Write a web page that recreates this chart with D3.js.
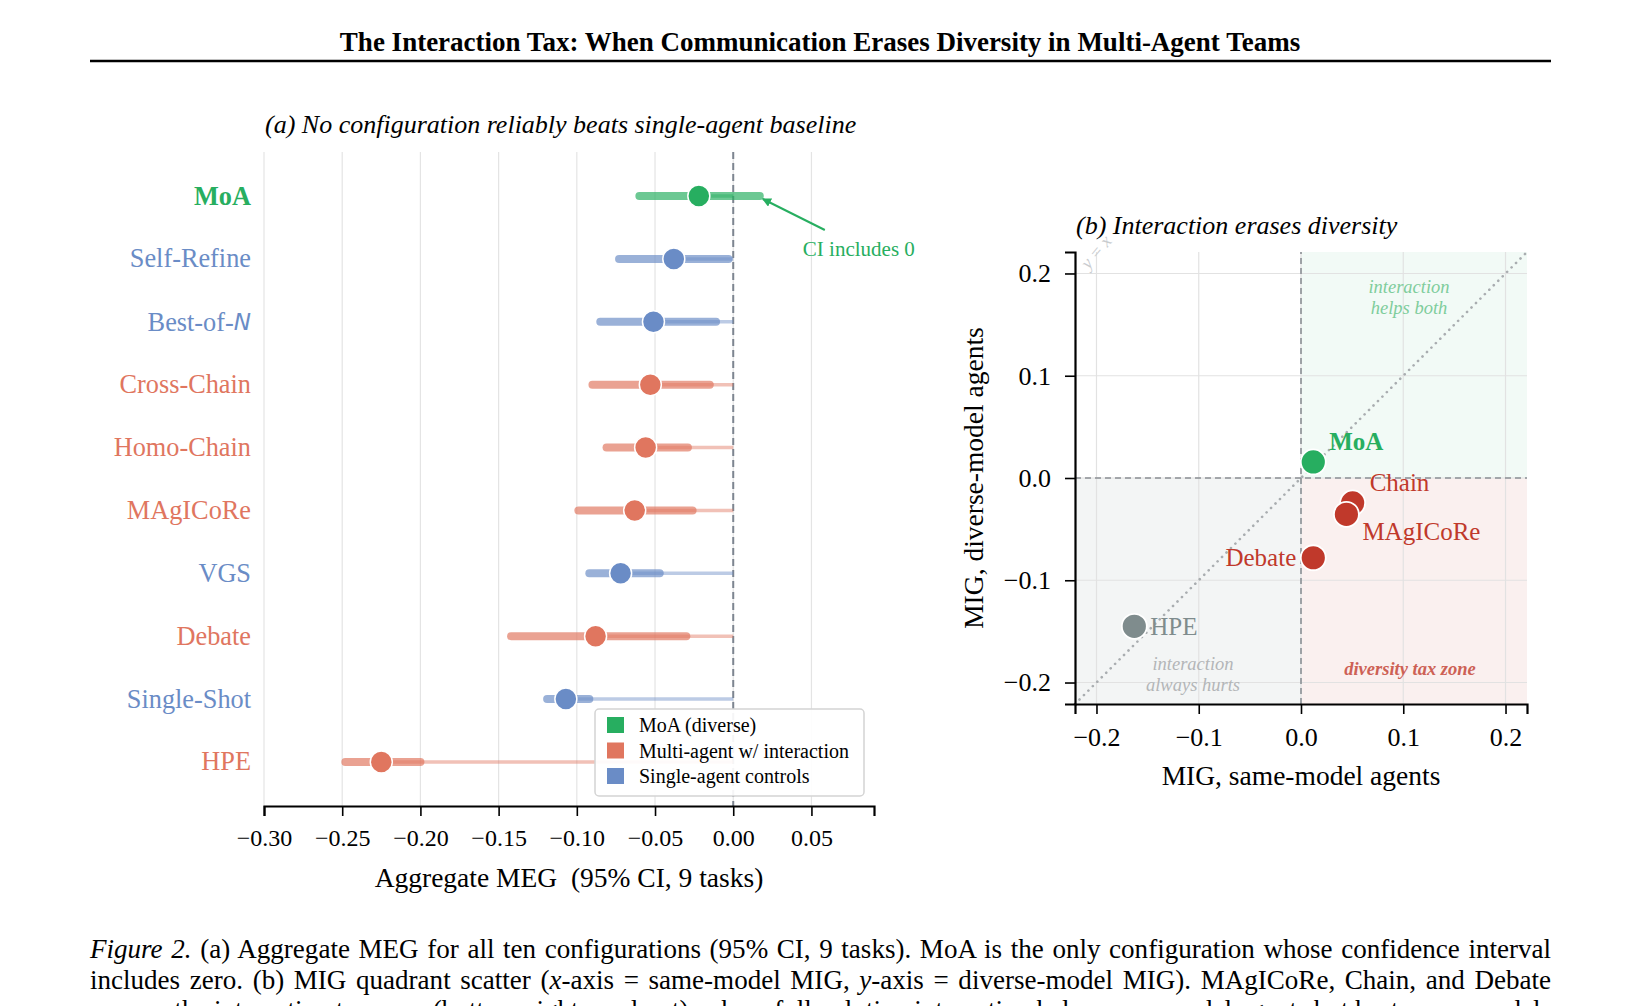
<!DOCTYPE html>
<html>
<head>
<meta charset="utf-8">
<script src="https://cdn.jsdelivr.net/npm/d3@7"></script>
<style>
  body { margin: 0; background: #fff; }
  text { font-family: "Liberation Serif", "Times New Roman", serif; }
</style>
</head>
<body>
<div id="chart"></div>
<script>
// ---- data: panel (a) forest plot
const configs = ["MoA", "Self-Refine", "Best-of-N", "Cross-Chain", "Homo-Chain", "MAgICoRe", "VGS", "Debate", "Single-Shot", "HPE"];
const groups = ["diverse", "single", "single", "multi", "multi", "multi", "single", "multi", "single", "multi"];
const meg = [-0.022, -0.038, -0.051, -0.053, -0.056, -0.063, -0.072, -0.088, -0.107, -0.225];
const ciLow = [-0.060, -0.073, -0.085, -0.090, -0.081, -0.099, -0.092, -0.142, -0.119, -0.248];
const ciHigh = [0.017, -0.003, -0.011, -0.015, -0.029, -0.026, -0.047, -0.030, -0.092, -0.200];
const xTicksA = [-0.30, -0.25, -0.20, -0.15, -0.10, -0.05, 0.00, 0.05];
const legendGroups = ["diverse", "multi", "single"];
const legendLabels = ["MoA (diverse)", "Multi-agent w/ interaction", "Single-agent controls"];

// ---- data: panel (b) quadrant scatter
const scatterNames = ["MoA", "Chain", "MAgICoRe", "Debate", "HPE"];
const scatterKinds = ["diverse", "tax", "tax", "tax", "hurt"];
const migSame = [0.012, 0.0505, 0.0444, 0.012, -0.163];
const migDiverse = [0.0157, -0.0244, -0.0355, -0.078, -0.145];
const ticksB = [-0.2, -0.1, 0.0, 0.1, 0.2];

// caption, as runs of [text, italic]
const captionLines = [
  [["Figure 2.", true], [" (a) Aggregate MEG for all ten configurations (95% CI, 9 tasks). MoA is the only configuration whose confidence interval", false]],
  [["includes zero. (b) MIG quadrant scatter (", false], ["x", true], ["-axis = same-model MIG, ", false], ["y", true], ["-axis = diverse-model MIG). MAgICoRe, Chain, and Debate", false]],
  [["occupy the interaction tax zone (bottom-right quadrant), where full-solution interaction helps same-model agents but hurts once models", false]]
];

const groupColor = { diverse: "#27ae60", multi: "#e0765f", single: "#6a8cc6" };
const kindColor = { diverse: "#27ae60", tax: "#c0392b", hurt: "#7f8c8d" };
const fmtMinus = s => s.replace("-", "\u2212");

const width = 1639, height = 1006;
const svg = d3.select("#chart").append("svg")
  .attr("width", width)
  .attr("height", height);

// title + rule
svg.append("text")
  .attr("x", 820).attr("y", 51)
  .attr("text-anchor", "middle")
  .attr("font-size", 27).attr("font-weight", "bold")
  .text("The Interaction Tax: When Communication Erases Diversity in Multi-Agent Teams");
svg.append("line")
  .attr("x1", 90).attr("x2", 1551).attr("y1", 61).attr("y2", 61)
  .attr("stroke", "#000").attr("stroke-width", 2.5);

// ================= panel (a)
const xA = d3.scaleLinear().domain([-0.30, 0.09]).range([264, 874]);
const yA = d3.scaleLinear().domain([-0.7, 9.7]).range([152, 806]);

const panelA = svg.append("g");

panelA.append("text")
  .attr("x", 265).attr("y", 133)
  .attr("font-size", 26).attr("font-style", "italic")
  .text("(a) No configuration reliably beats single-agent baseline");

// grid
panelA.append("g").selectAll("line").data(xTicksA).join("line")
  .attr("x1", d => xA(d)).attr("x2", d => xA(d))
  .attr("y1", yA.range()[0]).attr("y2", yA.range()[1])
  .attr("stroke", "#e4e4e4").attr("stroke-width", 1.2);

// zero reference
panelA.append("line")
  .attr("x1", xA(0)).attr("x2", xA(0))
  .attr("y1", yA.range()[0]).attr("y2", yA.range()[1])
  .attr("stroke", "#7d8590").attr("stroke-width", 2)
  .attr("stroke-dasharray", "7,4");

const rows = configs.map((c, i) => ({ name: c, group: groups[i], est: meg[i], lo: ciLow[i], hi: ciHigh[i], i }));

// stems from zero to estimate
panelA.append("g").selectAll("line").data(rows).join("line")
  .attr("x1", xA(0)).attr("x2", d => xA(d.est))
  .attr("y1", d => yA(d.i)).attr("y2", d => yA(d.i))
  .attr("stroke", d => groupColor[d.group])
  .attr("stroke-opacity", 0.45).attr("stroke-width", 3.5);

// CI bars
panelA.append("g").selectAll("line").data(rows).join("line")
  .attr("x1", d => xA(d.lo)).attr("x2", d => xA(d.hi))
  .attr("y1", d => yA(d.i)).attr("y2", d => yA(d.i))
  .attr("stroke", d => groupColor[d.group])
  .attr("stroke-opacity", 0.68).attr("stroke-width", 8)
  .attr("stroke-linecap", "round");

// points
panelA.append("g").selectAll("circle").data(rows).join("circle")
  .attr("cx", d => xA(d.est)).attr("cy", d => yA(d.i))
  .attr("r", 11)
  .attr("fill", d => groupColor[d.group])
  .attr("stroke", "#fff").attr("stroke-width", 1.5);

// category labels
const catLabels = panelA.append("g").selectAll("text").data(rows).join("text")
  .attr("x", 251).attr("y", d => yA(d.i))
  .attr("dominant-baseline", "central")
  .attr("text-anchor", "end")
  .attr("font-size", 26.3)
  .attr("font-weight", d => d.group === "diverse" ? "bold" : "normal")
  .attr("fill", d => groupColor[d.group]);
catLabels.each(function (d) {
  const t = d3.select(this);
  if (d.name === "Best-of-N") {
    t.append("tspan").text("Best-of-");
    t.append("tspan").attr("font-family", "DejaVu Sans").attr("font-style", "italic").attr("font-size", 23).text("N");
  } else {
    t.text(d.name);
  }
});

// x axis
const axisA = panelA.append("g")
  .attr("transform", `translate(0,${yA.range()[1]})`)
  .call(d3.axisBottom(xA).tickValues(xTicksA).tickFormat(d => fmtMinus(d3.format(".2f")(d))).tickSizeOuter(0).tickSize(10).tickPadding(13));
axisA.select(".domain").attr("stroke-width", 2.2);
axisA.selectAll(".tick line").attr("stroke-width", 1.6);
axisA.selectAll(".tick text").attr("font-size", 24).attr("font-family", "Liberation Serif");

panelA.append("text")
  .attr("x", (xA.range()[0] + xA.range()[1]) / 2).attr("y", 887)
  .attr("text-anchor", "middle").attr("font-size", 27.5)
  .style("white-space", "pre")
  .text("Aggregate MEG  (95% CI, 9 tasks)");

// annotation
svg.append("defs").append("marker")
  .attr("id", "arrowG").attr("viewBox", "0 0 10 10")
  .attr("refX", 9).attr("refY", 5)
  .attr("markerWidth", 4.5).attr("markerHeight", 4.5)
  .attr("orient", "auto")
  .append("path").attr("d", "M0,0 L10,5 L0,10 z").attr("fill", "#27ae60");
const tipX = xA(ciHigh[0]) + 3, tipY = yA(0) + 3;
panelA.append("line")
  .attr("x1", tipX + 62).attr("y1", tipY + 31)
  .attr("x2", tipX).attr("y2", tipY)
  .attr("stroke", "#27ae60").attr("stroke-width", 2)
  .attr("marker-end", "url(#arrowG)");
panelA.append("text")
  .attr("x", tipX + 96).attr("y", tipY + 50)
  .attr("text-anchor", "middle").attr("dominant-baseline", "central")
  .attr("font-size", 21).attr("fill", "#27ae60")
  .text("CI includes 0");

// legend
const legend = panelA.append("g").attr("transform", "translate(595,709)");
legend.append("rect")
  .attr("width", 269).attr("height", 87).attr("rx", 4)
  .attr("fill", "#fff").attr("fill-opacity", 0.92)
  .attr("stroke", "#d4d4d4").attr("stroke-width", 1.5);
const legRows = legend.selectAll("g").data(legendLabels).join("g")
  .attr("transform", (d, i) => `translate(12,${16 + i * 25.5})`);
legRows.append("rect")
  .attr("x", 0).attr("y", -8).attr("width", 17).attr("height", 16)
  .attr("fill", (d, i) => groupColor[legendGroups[i]]);
legRows.append("text")
  .attr("x", 32).attr("y", 0).attr("dominant-baseline", "central")
  .attr("font-size", 20)
  .text(d => d);

// ================= panel (b)
const xB = d3.scaleLinear().domain([-0.221, 0.221]).range([1075, 1527]);
const yB = d3.scaleLinear().domain([-0.221, 0.221]).range([704, 252]);
const panelB = svg.append("g");

panelB.append("text")
  .attr("x", 1076).attr("y", 234)
  .attr("font-size", 26).attr("font-style", "italic")
  .text("(b) Interaction erases diversity");

// quadrant shading
const [bx0, bx1] = xB.domain(), [by0, by1] = yB.domain();
const quads = [
  { x0: 0, x1: bx1, y0: 0, y1: by1, fill: "#27ae60", op: 0.06 },
  { x0: 0, x1: bx1, y0: by0, y1: 0, fill: "#c0392b", op: 0.075 },
  { x0: bx0, x1: 0, y0: by0, y1: 0, fill: "#7f8c8d", op: 0.09 }
];
panelB.append("g").selectAll("rect").data(quads).join("rect")
  .attr("x", d => xB(d.x0)).attr("width", d => xB(d.x1) - xB(d.x0))
  .attr("y", d => yB(d.y1)).attr("height", d => yB(d.y0) - yB(d.y1))
  .attr("fill", d => d.fill).attr("fill-opacity", d => d.op);

// grid
panelB.append("g").selectAll("line").data(ticksB).join("line")
  .attr("x1", d => xB(d)).attr("x2", d => xB(d))
  .attr("y1", yB.range()[0]).attr("y2", yB.range()[1])
  .attr("stroke", "#e2e2e2").attr("stroke-width", 1.2);
panelB.append("g").selectAll("line").data(ticksB).join("line")
  .attr("y1", d => yB(d)).attr("y2", d => yB(d))
  .attr("x1", xB.range()[0]).attr("x2", xB.range()[1])
  .attr("stroke", "#e2e2e2").attr("stroke-width", 1.2);

// zero lines
panelB.append("line")
  .attr("x1", xB(0)).attr("x2", xB(0)).attr("y1", yB.range()[0]).attr("y2", yB.range()[1])
  .attr("stroke", "#8a8f94").attr("stroke-width", 1.6).attr("stroke-dasharray", "6,4");
panelB.append("line")
  .attr("y1", yB(0)).attr("y2", yB(0)).attr("x1", xB.range()[0]).attr("x2", xB.range()[1])
  .attr("stroke", "#8a8f94").attr("stroke-width", 1.6).attr("stroke-dasharray", "6,4");

// y = x
panelB.append("line")
  .attr("x1", xB(bx0)).attr("y1", yB(bx0))
  .attr("x2", xB(bx1)).attr("y2", yB(bx1))
  .attr("stroke", "#a9adb0").attr("stroke-width", 2.6)
  .attr("stroke-linecap", "round").attr("stroke-dasharray", "0.1,6.2");
panelB.append("text")
  .attr("transform", "translate(1096,252) rotate(-50)")
  .attr("text-anchor", "middle").attr("dominant-baseline", "central")
  .attr("font-size", 18).attr("font-style", "italic").attr("fill", "#c9cccf")
  .text("y = x");

// zone notes
const note = (x, y, lines, color, bold) => {
  const t = panelB.append("text")
    .attr("text-anchor", "middle").attr("font-size", 18.5)
    .attr("font-style", "italic").attr("fill", color)
    .attr("font-weight", bold ? "bold" : "normal");
  lines.forEach((l, k) => t.append("tspan").attr("x", x).attr("y", y + k * 21).text(l));
};
note(1409, 293, ["interaction", "helps both"], "#7fcd9c", false);
note(1193, 670, ["interaction", "always hurts"], "#b3b6b8", false);
note(1410, 675, ["diversity tax zone"], "#cd6155", true);

// points
const pts = scatterNames.map((n, i) => ({ name: n, kind: scatterKinds[i], x: migSame[i], y: migDiverse[i] }));
panelB.append("g").selectAll("circle").data(pts).join("circle")
  .attr("cx", d => xB(d.x)).attr("cy", d => yB(d.y))
  .attr("r", 12.5)
  .attr("fill", d => kindColor[d.kind])
  .attr("stroke", "#fff").attr("stroke-width", 1.8);

// point labels (offset, anchor)
const labelStyle = [
  { dx: 16, dy: -20, anchor: "start", bold: true },
  { dx: 17, dy: -20, anchor: "start" },
  { dx: 16, dy: 17, anchor: "start" },
  { dx: -17, dy: 0, anchor: "end" },
  { dx: 16, dy: 0, anchor: "start" }
];
panelB.append("g").selectAll("text").data(pts).join("text")
  .attr("x", (d, i) => xB(d.x) + labelStyle[i].dx)
  .attr("y", (d, i) => yB(d.y) + labelStyle[i].dy)
  .attr("text-anchor", (d, i) => labelStyle[i].anchor)
  .attr("dominant-baseline", "central")
  .attr("font-size", 25)
  .attr("font-weight", (d, i) => labelStyle[i].bold ? "bold" : "normal")
  .attr("fill", d => kindColor[d.kind])
  .text(d => d.name);

// axes
const axB = panelB.append("g")
  .attr("transform", `translate(0,${yB.range()[0]})`)
  .call(d3.axisBottom(xB).tickValues(ticksB).tickFormat(d => fmtMinus(d3.format(".1f")(d))).tickSizeOuter(0).tickSize(10).tickPadding(14));
const ayB = panelB.append("g")
  .attr("transform", `translate(${xB.range()[0]},0)`)
  .call(d3.axisLeft(yB).tickValues(ticksB).tickFormat(d => fmtMinus(d3.format(".1f")(d))).tickSizeOuter(0).tickSize(10).tickPadding(14));
[axB, ayB].forEach(a => {
  a.select(".domain").attr("stroke-width", 2.2);
  a.selectAll(".tick line").attr("stroke-width", 1.6);
  a.selectAll(".tick text").attr("font-size", 26).attr("font-family", "Liberation Serif");
});

panelB.append("text")
  .attr("x", (xB.range()[0] + xB.range()[1]) / 2).attr("y", 785)
  .attr("text-anchor", "middle").attr("font-size", 27.5)
  .text("MIG, same-model agents");
panelB.append("text")
  .attr("transform", `translate(983,${(yB.range()[0] + yB.range()[1]) / 2}) rotate(-90)`)
  .attr("text-anchor", "middle").attr("font-size", 27.5)
  .text("MIG, diverse-model agents");

// ================= caption (justified by word spacing)
const capX = 90, capW = 1461, capY = [958, 988.5, 1019];
const cap = svg.append("g");
const capTexts = captionLines.map((runs, k) => {
  const t = cap.append("text").attr("x", capX).attr("y", capY[k]).attr("font-size", 24);
  runs.forEach(([s, it]) => t.append("tspan").attr("font-style", it ? "italic" : "normal").text(s));
  return t;
});
const natural0 = capTexts[0].node().getComputedTextLength();
const capFont = 24 * capW * 0.975 / natural0;
capTexts.forEach((t, k) => {
  t.attr("font-size", capFont);
  const nat = t.node().getComputedTextLength();
  const spaces = captionLines[k].map(r => r[0]).join("").split(" ").length - 1;
  t.attr("word-spacing", (capW - nat) / spaces);
});
</script>
</body>
</html>
